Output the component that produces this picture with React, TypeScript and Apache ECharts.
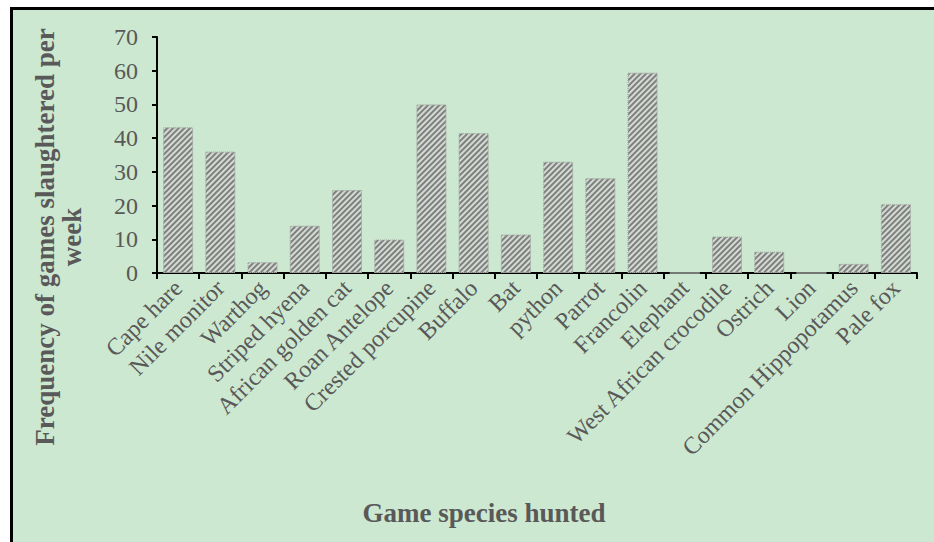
import React, { useEffect, useRef } from "react";
import * as echarts from "echarts";

const categories = [
  "Cape hare", "Nile monitor", "Warthog", "Striped hyena", "African golden cat",
  "Roan Antelope", "Crested porcupine", "Buffalo", "Bat", "python", "Parrot",
  "Francolin", "Elephant", "West African crocodile", "Ostrich", "Lion",
  "Common Hippopotamus", "Pale fox",
];
const frequencies = [43.2, 36, 3.2, 14, 24.6, 9.9, 50, 41.5, 11.4, 33, 28.1, 59.4, 0, 10.8, 6.3, 0, 2.7, 20.4];
const yTicks = { min: 0, max: 70, interval: 10 };
const yTitleLine1 = "Frequency of games slaughtered per";
const yTitleLine2 = "week";
const xTitle = "Game species hunted";

const FONT = "'Liberation Serif', 'Times New Roman', serif";
const TEXT = "#595959";
const BG = "#cde8d0";

export default function App() {
  const ref = useRef<HTMLDivElement>(null);
  useEffect(() => {
    if (!ref.current) return;
    const chart = echarts.init(ref.current, null, { renderer: "svg" });
    chart.setOption({
      animation: false,
      backgroundColor: "transparent",
      grid: { left: 157, right: 17, top: 37, bottom: 269, containLabel: false },
      xAxis: {
        type: "category",
        data: categories,
        axisLine: { lineStyle: { color: "#000", width: 2 } },
        axisTick: { show: true, length: 6, lineStyle: { color: "#000", width: 2 } },
        axisLabel: { rotate: 45, fontFamily: FONT, fontSize: 24, color: TEXT, margin: 11, interval: 0 },
        splitLine: { show: false },
      },
      yAxis: {
        type: "value",
        min: yTicks.min,
        max: yTicks.max,
        interval: yTicks.interval,
        axisLine: { show: true, lineStyle: { color: "#000", width: 2 } },
        axisTick: { show: true, length: 5, lineStyle: { color: "#000", width: 2 } },
        axisLabel: { fontFamily: FONT, fontSize: 24, color: TEXT, margin: 19 },
        splitLine: { show: false },
      },
      graphic: [
        {
          type: "text",
          x: 45,
          y: 237,
          rotation: Math.PI / 2,
          style: {
            text: yTitleLine1,
            font: `bold 27px ${FONT}`,
            fill: TEXT,
            textAlign: "center",
            textVerticalAlign: "middle",
          },
        },
        {
          type: "text",
          x: 72,
          y: 237,
          rotation: Math.PI / 2,
          style: {
            text: yTitleLine2,
            font: `bold 27px ${FONT}`,
            fill: TEXT,
            textAlign: "center",
            textVerticalAlign: "middle",
          },
        },
        {
          type: "text",
          x: 484,
          y: 513,
          style: {
            text: xTitle,
            font: `bold 27px ${FONT}`,
            fill: TEXT,
            textAlign: "center",
            textVerticalAlign: "middle",
          },
        },
      ],
      series: [
        {
          type: "bar",
          data: frequencies,
          barCategoryGap: "29%",
          itemStyle: {
            color: "#d3dcd3",
            borderColor: "#a8b0a8",
            borderWidth: 1,
            borderType: "dotted",
            decal: {
              symbol: "rect",
              color: "#7f7f7f",
              dashArrayX: [1, 0],
              dashArrayY: [1.5, 1.5],
              rotation: -Math.PI / 4,
            },
          },
        },
      ],
    });
    return () => chart.dispose();
  }, []);
  return (
    <div style={{ position: "absolute", left: 0, top: 0, width: 934, height: 542, overflow: "hidden", background: "#fff" }}>
      <div
        style={{
          position: "absolute",
          left: 10,
          top: 7,
          width: 940,
          height: 550,
          background: BG,
          borderLeft: "3px solid #000",
          borderTop: "3px solid #000",
          boxSizing: "border-box",
        }}
      />
      <div ref={ref} style={{ position: "absolute", left: 0, top: 0, width: 934, height: 542 }} />
    </div>
  );
}
